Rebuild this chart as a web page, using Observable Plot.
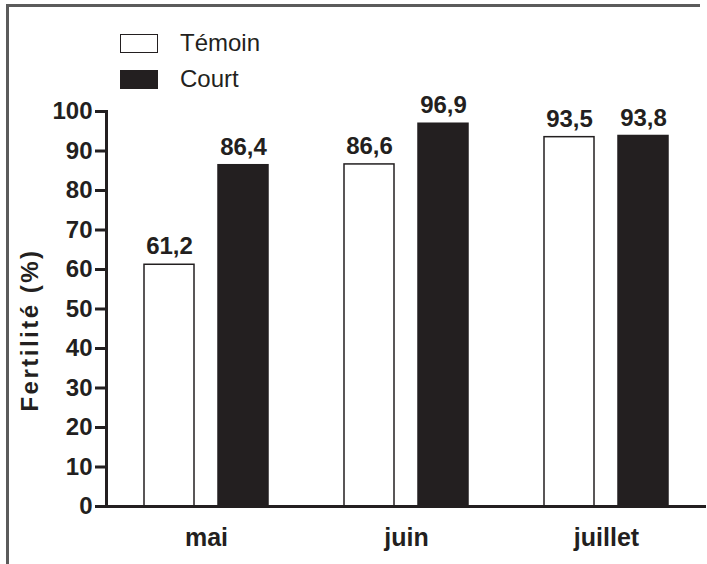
<!DOCTYPE html>
<html>
<head>
<meta charset="utf-8">
<script src="https://cdn.jsdelivr.net/npm/d3@7"></script>
<script src="https://cdn.jsdelivr.net/npm/@observablehq/plot@0.6"></script>
<style>
  html, body { margin: 0; padding: 0; background: #fff; }
  body { font-family: "Liberation Sans", Arial, Helvetica, sans-serif; color: #231f20; }
  #wrap { position: relative; width: 707px; height: 564px; overflow: hidden; }
  #border { position: absolute; left: 6px; top: 4px; width: 691px; height: 620px;
            border-left: 3px solid #5b5b5b; border-top: 3px solid #5b5b5b; }
  #legend { position: relative; height: 95px; }
  .item { position: absolute; left: 120px; height: 20px; display: flex; align-items: center;
          font-size: 24px; line-height: 20px; color: #231f20; }
  .sw { box-sizing: border-box; width: 38px; height: 19px; border: 1.5px solid #231f20; margin-right: 22px; }
  #chart { position: absolute; left: 0; top: 95px; }
  #chart svg text { font-family: "Liberation Sans", Arial, Helvetica, sans-serif; }
  #chart svg g[aria-label="y-axis label"] { translate: 0px 21px; }
  #chart svg g[aria-label="y-axis label"] text { letter-spacing: 2.5px; }
</style>
</head>
<body>
<div id="wrap">
  <div id="border"></div>
  <div id="legend"></div>
  <div id="chart"></div>
</div>
<script>
// ---- data ----
const months = ["mai", "juin", "juillet"];
const series = ["Témoin", "Court"];
const temoin = [61.2, 86.6, 93.5];
const court = [86.4, 96.9, 93.8];
const yTicks = [0, 10, 20, 30, 40, 50, 60, 70, 80, 90, 100];
const yLabel = "Fertilité (%)";
const seriesColors = ["#ffffff", "#231f20"];

const rows = months.flatMap((m, i) => [
  {month: m, series: series[0], value: temoin[i]},
  {month: m, series: series[1], value: court[i]}
]);
const fmt = v => v.toFixed(1).replace(".", ",");

// ---- legend (HTML, above the SVG) ----
const legend = document.getElementById("legend");
series.forEach((s, i) => {
  const it = document.createElement("div");
  it.className = "item";
  it.style.top = (33 + i * 36) + "px";
  const sw = document.createElement("span");
  sw.className = "sw";
  sw.style.background = seriesColors[i];
  const tx = document.createElement("span");
  tx.textContent = s;
  it.appendChild(sw);
  it.appendChild(tx);
  legend.appendChild(it);
});

// ---- chart ----
const ink = "#231f20";
const chart = Plot.plot({
  width: 707,
  height: 469,
  marginLeft: 105,
  marginRight: 1,
  marginTop: 16,
  marginBottom: 58,
  style: {background: "transparent", color: ink, overflow: "visible"},
  fx: {domain: months, padding: 0, axis: null},
  x: {domain: series, paddingInner: 0.33, paddingOuter: 0.51, axis: null},
  y: {domain: [0, 100], axis: null},
  color: {domain: series, range: seriesColors},
  marks: [
    Plot.barY(rows, {fx: "month", x: "series", y: "value", fill: "series", stroke: ink, strokeWidth: 1.5}),
    Plot.text(rows, {fx: "month", x: "series", y: "value", text: d => fmt(d.value),
      dy: -18, fontSize: 24, fontWeight: "bold", fill: ink}),
    Plot.ruleY([0], {stroke: ink, strokeWidth: 3}),
    Plot.frame({anchor: "left", facetAnchor: "left", stroke: ink, strokeWidth: 3}),
    Plot.axisY({ticks: yTicks, tickSize: 11, tickPadding: 3, strokeWidth: 3, stroke: ink,
      fontSize: 24, fontWeight: "bold", fill: ink, label: null}),
    Plot.axisY({ticks: [], label: yLabel, labelAnchor: "center", labelArrow: "none",
      labelOffset: 86, fontSize: 24, fontWeight: "bold", fill: ink}),
    Plot.axisFx({anchor: "bottom", tickSize: 0, tickPadding: 22, fontSize: 25, fontWeight: "bold",
      fill: ink, label: null})
  ]
});
document.getElementById("chart").appendChild(chart);
</script>
</body>
</html>
